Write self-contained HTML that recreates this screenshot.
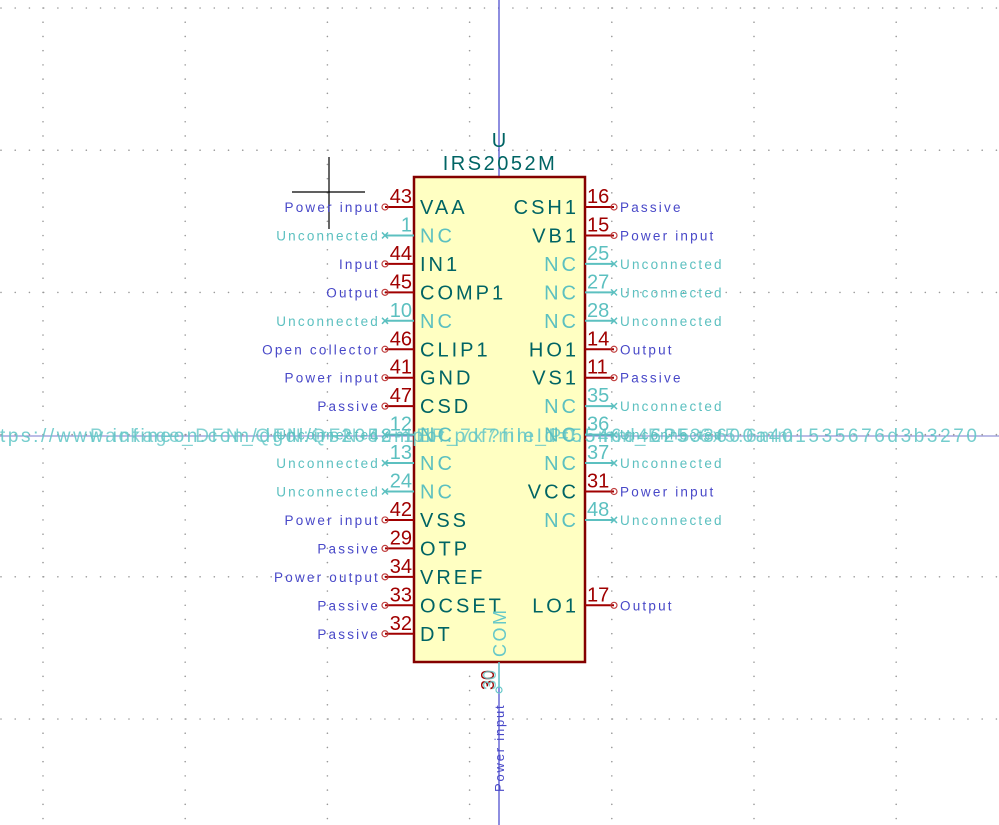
<!DOCTYPE html>
<html><head><meta charset="utf-8"><style>
html,body{margin:0;padding:0;background:#fff;width:999px;height:825px;overflow:hidden}
svg text{font-family:"Liberation Sans",sans-serif}
</style></head><body>
<svg id="s" width="999" height="825" viewBox="0 0 999 825" xmlns="http://www.w3.org/2000/svg">
<g id="grid"></g>
<line x1="499" y1="0" x2="499" y2="177" stroke="#4444cc" stroke-width="1.2"/>
<line x1="499" y1="662" x2="499" y2="825" stroke="#4444cc" stroke-width="1.2"/>
<line x1="0" y1="436" x2="999" y2="436" stroke="#7a7acc" stroke-width="1"/>
<g stroke="#000" stroke-width="1.2">
<line x1="292" y1="192" x2="365" y2="192"/><line x1="329" y1="157" x2="329" y2="229"/></g>
<rect x="414" y="177" width="171" height="485" fill="#ffffc2" stroke="#840000" stroke-width="2.5"/>
<text x="499" y="147" text-anchor="middle" font-size="20" fill="#006464">U</text>
<text x="500" y="170" text-anchor="middle" font-size="20" fill="#006464" letter-spacing="2.5">IRS2052M</text>
<text x="0" y="442" font-size="19" fill="#66c8c8" opacity="0.9" letter-spacing="2.6">tps://www.infineon.com/dgdl/irs2052mpbf.pdf?fileId=5546d462533600a401535676d3b3270</text>
<text x="90" y="442" font-size="19" fill="#66c8c8" opacity="0.8" letter-spacing="2.6">Package_DFN_QFN:QFN-48-1EP_7x7mm_P0.5mm_EP5.6x5.6mm</text>
<g id="pins"></g>
<g>
<circle cx="499" cy="690" r="3" fill="none" stroke="#66c8c8" stroke-width="1.2"/>
<line x1="499" y1="662" x2="499" y2="687" stroke="#66c8c8" stroke-width="1.5"/>
<text transform="translate(506,657) rotate(-90)" font-size="18" fill="#66c8c8" letter-spacing="2.5">COM</text>
<text transform="translate(494,690) rotate(-90)" font-size="18" fill="#a00000">30</text>
<text transform="translate(496,690) rotate(-90)" font-size="18" fill="#66c8c8" opacity="0.8">30</text>
<text transform="translate(504,792) rotate(-90)" font-size="13" fill="#4848c8" letter-spacing="1.8">Power input</text>
</g>
</svg>
<script>
const rowY0 = 207, pitch = 28.45;
const leftNums = ["43","1","44","45","10","46","41","47","12","13","24","42","29","34","33","32"];
const leftNames = ["VAA","NC","IN1","COMP1","NC","CLIP1","GND","CSD","NC","NC","NC","VSS","OTP","VREF","OCSET","DT"];
const leftTypes = ["Power input","Unconnected","Input","Output","Unconnected","Open collector","Power input","Passive","Unconnected","Unconnected","Unconnected","Power input","Passive","Power output","Passive","Passive"];
const rightNums = ["16","15","25","27","28","14","11","35","36","37","31","48","","","17",""];
const rightNames = ["CSH1","VB1","NC","NC","NC","HO1","VS1","NC","NC","NC","VCC","NC","","","LO1",""];
const rightTypes = ["Passive","Power input","Unconnected","Unconnected","Unconnected","Output","Passive","Unconnected","Unconnected","Unconnected","Power input","Unconnected","","","Output",""];
const NS="http://www.w3.org/2000/svg";
const s=document.getElementById('pins'), g=document.getElementById('grid');
function mk(tag,a,p){const e=document.createElementNS(NS,tag);for(const k in a)e.setAttribute(k,a[k]);p.appendChild(e);return e;}
for(let y=8;y<825;y+=142.2){for(let x=1;x<999;x+=14.22){mk('circle',{cx:x,cy:y,r:0.8,fill:'#999'},g);}}
for(let x=43;x<999;x+=142.2){for(let y=8;y<825;y+=14.22){mk('circle',{cx:x,cy:y,r:0.8,fill:'#999'},g);}}
function pin(side,i,num,name,type){
  if(!num)return;
  const y=rowY0+i*pitch, nc=name==="NC";
  const grp=mk('g',{},s);
  
  
  const col=nc?'#5cc0c0':'#a00000';
  const x0=side==='L'?385:614, x1=side==='L'?414:585;
  mk('line',{x1:x0,y1:y,x2:x1,y2:y,stroke:col,'stroke-width':2},grp);
  if(nc){const cx=side==='L'?385:614;
    mk('path',{d:`M${cx-3} ${y-3}L${cx+3} ${y+3}M${cx+3} ${y-3}L${cx-3} ${y+3}`,stroke:'#5cc0c0','stroke-width':1.5},grp);}
  else mk('circle',{cx:x0,cy:y,r:3,fill:'none',stroke:'#c04040','stroke-width':1.2},grp);
  const t1=mk('text',{x:side==='L'?412:587,y:y-4,'font-size':20,fill:col,'text-anchor':side==='L'?'end':'start'},grp);t1.textContent=num;
  const t2=mk('text',{x:side==='L'?420:579,y:y+7,'font-size':20,fill:nc?'#5cc0c0':'#006464','letter-spacing':3,'text-anchor':side==='L'?'start':'end'},grp);t2.textContent=name;
  const t3=mk('text',{x:side==='L'?380:620,y:y+5,'font-size':13.5,fill:nc?'#5cc0c0':'#4848c8','letter-spacing':2.2,'text-anchor':side==='L'?'end':'start'},grp);t3.textContent=type;
}
leftNums.forEach((n,i)=>pin('L',i,n,leftNames[i],leftTypes[i]));
rightNums.forEach((n,i)=>pin('R',i,n,rightNames[i],rightTypes[i]));
</script>
</body></html>
